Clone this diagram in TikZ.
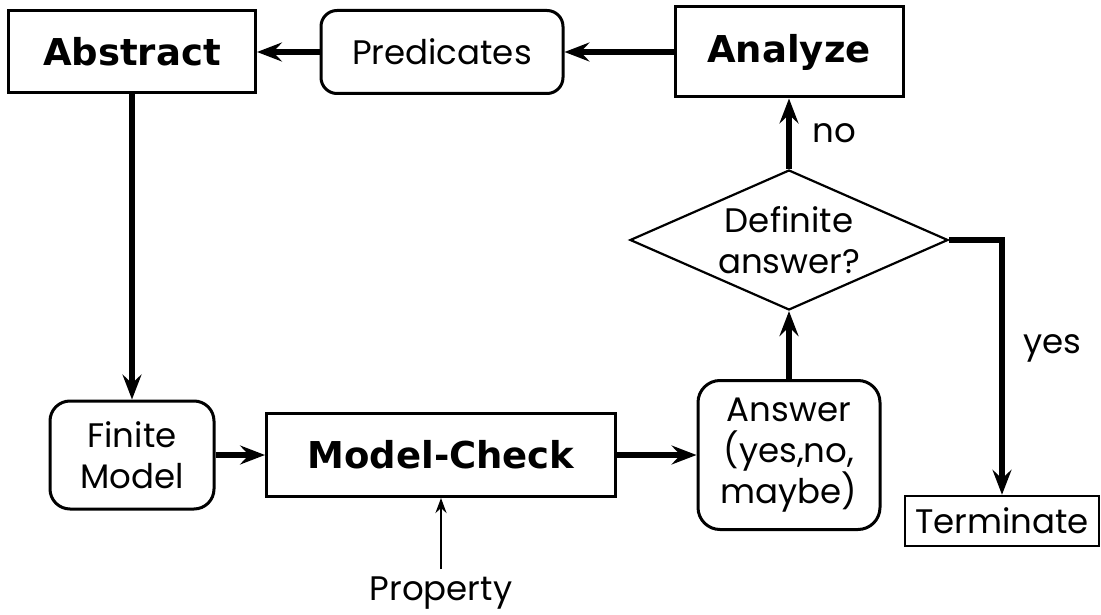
\documentclass[tikz,border=0pt]{standalone}
\usepackage{fontspec}
\setmainfont{Poppins}
\newfontfamily\boldfam{DejaVu Sans}
\usetikzlibrary{arrows.meta,shapes.geometric}
\tikzset{
  x=1pt, y=-1pt,
  box/.style={draw, line width=3pt, inner sep=0pt, font=\boldfam\bfseries\fontsize{37}{44}\selectfont},
  rbox/.style={draw, line width=3pt, inner sep=0pt, align=center, font=\fontsize{34}{41}\selectfont},
  plain/.style={inner sep=0pt, align=center, font=\fontsize{34}{41}\selectfont},
  conn/.style={line width=6pt, -{Stealth[length=25pt,width=19pt,inset=9pt]}},
  thinconn/.style={line width=2.5pt, -{Stealth[length=15pt,width=11pt,inset=5pt]}},
}
\begin{document}
\begin{tikzpicture}
\useasboundingbox (0,0) rectangle (1101,615);
\node[box, minimum width=247pt, minimum height=82pt] (abs) at (132,52) {Abstract};
\node[rbox, rounded corners=16pt, minimum width=242pt, minimum height=83pt] (pred) at (442,52) {Predicates};
\node[box, minimum width=228pt, minimum height=90pt] (ana) at (789,52) {Analyze};
\node[draw, line width=2.2pt, shape=diamond, inner sep=0pt, minimum width=318pt, minimum height=140pt] (dia) at (789,240) {};
\node[plain] (diat) at (789,240) {Definite\\answer?};
\node[rbox, rounded corners=20pt, minimum width=164pt, minimum height=108pt] (fin) at (132,455) {Finite\\Model};
\node[box, minimum width=349pt, minimum height=83pt] (mc) at (441,455) {Model-Check};
\node[rbox, rounded corners=22pt, minimum width=182pt, minimum height=149pt] (ans) at (789,455) {Answer\\(yes,no,\\maybe)};
\node[rbox, line width=2.5pt, minimum width=194pt, minimum height=50pt] (term) at (1002,521) {Terminate};
\node[plain, inner sep=7pt, anchor=base] (prop) at (441,600) {Property};
\node[plain] (no) at (834,133) {no};
\node[plain] (yes) at (1052,348) {yes};
\draw[conn] (ana.west) -- (pred.east);
\draw[conn] (pred.west) -- (abs.east);
\draw[conn] (abs.south) -- (fin.north);
\draw[conn] (fin.east) -- (mc.west);
\draw[conn] (mc.east) -- (ans.west);
\draw[conn] (ans.north) -- (dia.south);
\draw[conn] (dia.north) -- (ana.south);
\draw[conn] (dia.east) -| (term.north);
\draw[thinconn] (prop.north) -- (mc.south);
\end{tikzpicture}
\end{document}
